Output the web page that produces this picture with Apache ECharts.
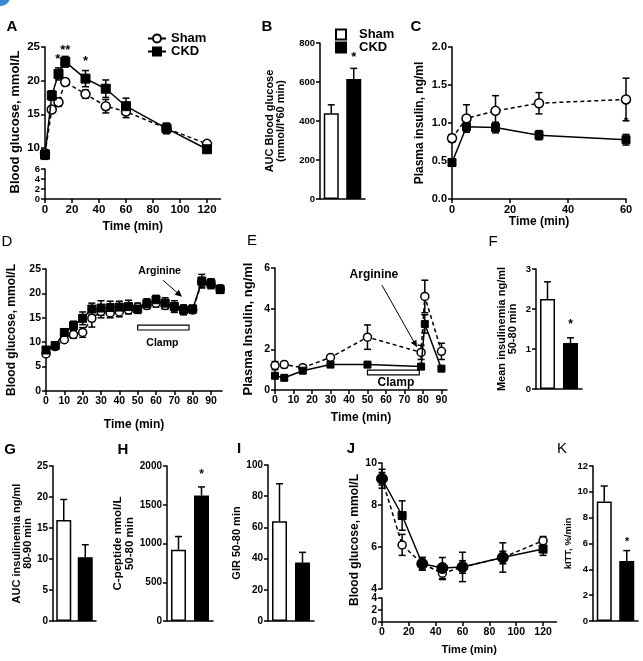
<!DOCTYPE html>
<html><head><meta charset="utf-8">
<script src="https://cdn.jsdelivr.net/npm/echarts@6/dist/echarts.min.js"></script>
<style>html,body{margin:0;padding:0;background:#fff}#c{width:643px;height:661px}</style>
</head><body><div id="c"></div><script>
// ---------- DATA ----------
// A: glucose tolerance
const aTime = [0,5,10,15,30,45,60,90,120];
const aSham = [9.2,15.7,16.8,19.8,18.0,16.2,15.4,12.9,10.6];
const aShamSem = [0.5,0.4,0.6,0.5,0.6,1.0,0.9,0.5,0.3];
const aCkd = [9.0,17.8,21.0,22.8,20.3,18.8,16.2,12.9,9.8];
const aCkdSem = [0.7,0.7,0.9,0.8,1.2,1.3,1.2,0.8,0.4];
const aXTicks = [0,20,40,60,80,100,120];
const aYTicks = [10,15,20,25];
const aYLowTicks = [0,2,4,6];
const aStars = [[9.5,23.1,'*'],[15,24.5,'**'],[30,22.9,'*']];
// B: AUC glucose
const groups = ['Sham','CKD'];
const bMean = [440,615];
const bSem = [43,55];
const bStars = [[1,728,'*']];
// C: plasma insulin
const cTime = [0,5,15,30,60];
const cSham = [0.80,1.06,1.16,1.26,1.31];
const cShamSem = [0.05,0.18,0.20,0.14,0.28];
const cCkd = [0.48,0.95,0.94,0.84,0.78];
const cCkdSem = [0.04,0.07,0.07,0.06,0.07];
const cStars = [[60,1.0,'*']];
// D: clamp glucose
const dTime = [0,5,10,15,20,25,30,35,40,45,50,55,60,65,70,75,80,85,90,95];
const dSham = [7.6,9.1,10.5,11.6,12.0,14.9,16.3,16.0,16.2,16.6,17.2,17.5,18.0,17.5,17.2,16.8,16.6,22.3,21.9,20.9];
const dShamSem = [0.5,0.4,0.5,0.8,1.0,1.8,1.3,1.0,1.0,0.8,0.8,0.6,0.8,0.7,0.8,0.8,0.7,1.0,0.9,0.8];
const dCkd = [8.4,9.3,12.0,13.4,14.9,16.8,17.0,17.1,17.2,17.3,16.8,17.9,18.7,18.0,17.3,16.6,16.8,22.5,22.0,20.8];
const dCkdSem = [0.6,0.5,0.6,0.9,1.3,1.2,1.5,1.3,1.2,1.3,0.9,1.0,0.9,1.1,1.2,1.0,0.8,1.4,1.0,0.8];
const dXTicks = [0,10,20,30,40,50,60,70,80,90];
const dTexts = [[62,24.6,'Arginine'],[63.5,9.8,'Clamp']];
const dArrow = [[63.8,22.7,74.2,19.3]];
const dClamp = [[50,12.5,78,13.5]];
// E: clamp insulin
const eTime = [0,5,15,30,50,79,81,90];
const eSham = [1.2,1.25,1.1,1.6,2.6,1.85,4.6,1.9];
const eShamSem = [0.2,0.15,0.1,0.1,0.6,0.35,0.8,0.4];
const eCkd = [0.7,0.6,0.95,1.25,1.25,1.15,3.25,1.05];
const eCkdSem = [0.1,0.05,0.1,0.1,0.05,0.1,0.45,0.05];
const eXTicks = [0,10,20,30,40,50,60,70,80,90];
const eTexts = [[53.5,5.66,'Arginine'],[65.4,0.35,'Clamp']];
const eArrow = [[57.8,5.16,76.8,2.1]];
const eClamp = [[50,0.74,78,0.98]];
// F..I, K: bar panels
const fMean = [2.25,1.15], fSem = [0.43,0.13], fStars = [[1,1.62,'*']];
const gMean = [16.3,10.3], gSem = [3.3,2.0];
const hMean = [920,1620], hSem = [170,110], hStars = [[1,1890,'*']];
const iMean = [64,37.5], iSem = [24,6.5];
const kMean = [9.25,4.65], kSem = [1.2,0.8], kStars = [[1,6.1,'*']];
// J: insulin tolerance
const jTime = [0,15,30,45,60,90,120];
const jSham = [9.25,6.1,5.2,4.75,5.05,5.5,6.3];
const jShamSem = [0.3,0.5,0.3,0.3,0.3,0.3,0.2];
const jCkd = [9.25,7.5,5.2,5.0,5.05,5.5,5.9];
const jCkdSem = [0.45,0.7,0.3,0.5,0.7,0.7,0.3];
const jXTicks = [0,20,40,60,80,100,120];
const jYLowTicks = [0,2,4];

// ---------- STYLE HELPERS ----------
const F = "'Liberation Sans', Arial, Helvetica, sans-serif";
const K = '#000';
const jCkdSymbol = ['circle','rect','circle','circle','circle','circle','rect'];

function axisStyle(fs){ return {
  axisLine:{show:true,onZero:false,lineStyle:{color:K,width:1.5}},
  axisTick:{show:true,inside:false,length:4,lineStyle:{color:K,width:1.5}},
  axisLabel:{color:K,fontFamily:F,fontWeight:'bold',fontSize:fs,margin:5,showMinLabel:true,showMaxLabel:true,hideOverlap:false,
             formatter:v=>String(v)},
  splitLine:{show:false}
};}
function valX(gi,min,max,opt,fs){
  const a = Object.assign({type:'value',gridIndex:gi,min:min,max:max},axisStyle(fs||11));
  return Object.assign(a,opt||{});
}
function nameStyle(fs){return {color:K,fontFamily:F,fontWeight:'bold',fontSize:fs};}
function catX(gi){
  const a = Object.assign({type:'category',gridIndex:gi,data:groups},axisStyle(10));
  a.axisTick = {show:false}; a.axisLabel = {show:false};
  return a;
}
function errSeries(xi,xs,means,errs,topOnly){
  return {type:'custom',xAxisIndex:xi,yAxisIndex:xi,z:2,silent:true,clip:false,
    data:xs.map((x,i)=>[x, topOnly?means[i]:means[i]-errs[i], means[i]+errs[i]]),
    renderItem:(p,api)=>{
      const lo=api.coord([api.value(0),api.value(1)]);
      const hi=api.coord([api.value(0),api.value(2)]);
      const w=3.5, st={stroke:K,lineWidth:1.5};
      const ch=[{type:'line',shape:{x1:lo[0],y1:lo[1],x2:hi[0],y2:hi[1]},style:st},
                {type:'line',shape:{x1:hi[0]-w,y1:hi[1],x2:hi[0]+w,y2:hi[1]},style:st}];
      if(!topOnly) ch.push({type:'line',shape:{x1:lo[0]-w,y1:lo[1],x2:lo[0]+w,y2:lo[1]},style:st});
      return {type:'group',children:ch};
    }};
}
function shamLine(xi,name,xs,ys,size){
  return {type:'line',name:name,xAxisIndex:xi,yAxisIndex:xi,z:3,
    data:xs.map((x,i)=>[x,ys[i]]),symbol:'circle',symbolSize:size||8,
    itemStyle:{color:'#fff',borderColor:K,borderWidth:1.5},
    lineStyle:{color:K,width:1.5,type:[4,3]}};
}
function ckdLine(xi,name,xs,ys,size){
  return {type:'line',name:name,xAxisIndex:xi,yAxisIndex:xi,z:4,
    data:xs.map((x,i)=>[x,ys[i]]),symbol:'rect',symbolSize:size||8,
    itemStyle:{color:K,borderColor:K,borderWidth:1},
    lineStyle:{color:K,width:1.5}};
}
function barSeries(xi,means){
  return {type:'bar',xAxisIndex:xi,yAxisIndex:xi,barWidth:15,z:1,
    data:means.map((v,i)=>({value:v,itemStyle:i===0?{color:'#fff',borderColor:K,borderWidth:1.5}:{color:K,borderColor:K,borderWidth:1.5}}))};
}
function textSeries(xi,yi,items,font){
  return {type:'custom',xAxisIndex:xi,yAxisIndex:yi,z:6,silent:true,clip:false,
    data:items.map(d=>[d[0],d[1]]),
    renderItem:(p,api)=>{
      const c=api.coord([api.value(0),api.value(1)]);
      return {type:'text',x:c[0],y:c[1],z2:10,style:{text:items[p.dataIndex][2],font:font,fill:K,align:'center',verticalAlign:'middle'}};
    }};
}
function arrowSeries(xi,items){
  return {type:'custom',xAxisIndex:xi,yAxisIndex:xi,z:6,silent:true,clip:false,
    data:items,
    renderItem:(p,api)=>{
      const a=api.coord([api.value(0),api.value(1)]);
      const b=api.coord([api.value(2),api.value(3)]);
      const ang=Math.atan2(b[1]-a[1],b[0]-a[0]);const L=7,W=3.2;
      const c=Math.cos(ang),s=Math.sin(ang);
      const p1=[b[0]-L*c+W*s,b[1]-L*s-W*c],p2=[b[0]-L*c-W*s,b[1]-L*s+W*c];
      return {type:'group',children:[
        {type:'line',shape:{x1:a[0],y1:a[1],x2:b[0]-L*c*0.6,y2:b[1]-L*s*0.6},style:{stroke:K,lineWidth:1}},
        {type:'polygon',shape:{points:[b,p1,p2]},style:{fill:K}}]};
    }};
}
function boxSeries(xi,items){
  return {type:'custom',xAxisIndex:xi,yAxisIndex:xi,z:1,silent:true,clip:false,
    data:items,
    renderItem:(p,api)=>{
      const a=api.coord([api.value(0),api.value(1)]);
      const b=api.coord([api.value(2),api.value(3)]);
      return {type:'rect',shape:{x:a[0],y:b[1],width:b[0]-a[0],height:a[1]-b[1]},style:{fill:'#fff',stroke:K,lineWidth:1.2}};
    }};
}

// ---------- LAYOUT ----------
const grids = [
  {left:45,top:47,width:175.5,height:111},   //0 A upper
  {left:45,top:169,width:175.5,height:30},   //1 A lower
  {left:320,top:43,width:45,height:156},     //2 B
  {left:452,top:47,width:174,height:152},    //3 C
  {left:46,top:269,width:176,height:122},    //4 D
  {left:275,top:268,width:172,height:122},   //5 E
  {left:536,top:269,width:46,height:120},    //6 F
  {left:53,top:466,width:43,height:155},     //7 G
  {left:167,top:466,width:46,height:155},    //8 H
  {left:268,top:465,width:46,height:156},    //9 I
  {left:382,top:463,width:174.5,height:126}, //10 J upper
  {left:382,top:598,width:174.5,height:24},  //11 J lower
  {left:593,top:466,width:45,height:155}     //12 K
].map(g=>Object.assign(g,{containLabel:false,outerBoundsMode:'none'}));

const xAxes = [
  valX(0,0,130,{show:false}),
  valX(1,0,130,{name:'Time (min)',nameLocation:'middle',nameGap:22,nameTextStyle:nameStyle(12)},11.5),
  catX(2),
  valX(3,0,60,{interval:20,name:'Time (min)',nameLocation:'middle',nameGap:17,nameTextStyle:nameStyle(12)},11),
  valX(4,0,96,{name:'Time (min)',nameLocation:'middle',nameGap:28,nameTextStyle:nameStyle(12)},10.5),
  valX(5,0,93,{name:'Time (min)',nameLocation:'middle',nameGap:22,nameTextStyle:nameStyle(12)},10.5),
  catX(6),catX(7),catX(8),catX(9),
  valX(10,0,130,{show:false}),
  valX(11,0,130,{name:'Time (min)',nameLocation:'middle',nameGap:22,nameTextStyle:nameStyle(11)},10.5),
  catX(12)
];
xAxes[1].axisTick.customValues = aXTicks; xAxes[1].axisLabel.customValues = aXTicks;
xAxes[4].axisTick.customValues = dXTicks; xAxes[4].axisLabel.customValues = dXTicks;
xAxes[5].axisTick.customValues = eXTicks; xAxes[5].axisLabel.customValues = eXTicks;
xAxes[11].axisTick.customValues = jXTicks; xAxes[11].axisLabel.customValues = jXTicks;

function valY(gi,min,max,interval,fs,opt){
  const a=Object.assign({type:'value',gridIndex:gi,min:min,max:max},axisStyle(fs));
  if(interval) a.interval=interval;
  return Object.assign(a,opt||{});
}
function yName(txt,gap,fs){return {name:txt,nameLocation:'middle',nameGap:gap,nameRotate:90,nameTextStyle:nameStyle(fs)};}
const yAxes = [
  valY(0,8.5,25,null,11.5),
  valY(1,0,6,2,9.5),
  valY(2,0,800,200,9.5,yName('AUC Blood glucose\n(mmol/l*60 min)',34,11)),
  valY(3,0,2,0.5,11,yName('Plasma insulin, ng/ml',26,12)),
  valY(4,0,25,5,10.5,yName('Blood glucose, mmol/L',28,12)),
  valY(5,0,6,2,10.5,yName('Plasma Insulin, ng/ml',20,13)),
  valY(6,0,3,1,9.5,yName('Mean insulinemia ng/ml\n50-80 min',18,11)),
  valY(7,0,25,5,10,yName('AUC insulinemia ng/ml\n80-90 min',20,11)),
  valY(8,0,2000,500,10,yName('C-peptide nmol/L\n50-80 min',28,11.5)),
  valY(9,0,100,20,10,yName('GIR 50-80 min',22,11)),
  valY(10,4,10,2,10.5),
  valY(11,0,4,2,10),
  valY(12,0,12,2,9.5,yName('kITT, %/min',16,9.5))
];
yAxes[0].axisTick.customValues = aYTicks; yAxes[0].axisLabel.customValues = aYTicks;
yAxes[1].axisTick.customValues = aYLowTicks; yAxes[1].axisLabel.customValues = aYLowTicks;
yAxes[11].axisTick.customValues = jYLowTicks; yAxes[11].axisLabel.customValues = jYLowTicks;
yAxes[3].axisLabel.formatter = v=>v.toFixed(1);

// ---------- SERIES ----------
const series = [];
// A
series.push(errSeries(0,aTime,aSham,aShamSem), errSeries(0,aTime,aCkd,aCkdSem));
series.push(shamLine(0,'A:Sham',aTime,aSham,9), ckdLine(0,'A:CKD',aTime,aCkd,9));
series.push(textSeries(0,0,aStars,'bold 13px '+F));
// B
series.push({type:'bar',name:'B:Sham',xAxisIndex:2,yAxisIndex:2,barWidth:15,barGap:'-100%',data:[bMean[0],'-'],itemStyle:{color:'#fff',borderColor:K,borderWidth:1.5}});
series.push({type:'bar',name:'B:CKD',xAxisIndex:2,yAxisIndex:2,barWidth:15,barGap:'-100%',data:['-',bMean[1]],itemStyle:{color:K,borderColor:K,borderWidth:1.5}});
series.push(errSeries(2,[0,1],bMean,bSem,true));
series.push(textSeries(2,2,bStars,'bold 13px '+F));
// C
series.push(errSeries(3,cTime,cSham,cShamSem), errSeries(3,cTime,cCkd,cCkdSem));
series.push(shamLine(3,'C:Sham',cTime,cSham,9), ckdLine(3,'C:CKD',cTime,cCkd,8));
series.push(textSeries(3,3,cStars,'bold 12px '+F));
// D
series.push(boxSeries(4,dClamp));
series.push(errSeries(4,dTime,dSham,dShamSem), errSeries(4,dTime,dCkd,dCkdSem));
series.push(shamLine(4,'D:Sham',dTime,dSham,8), ckdLine(4,'D:CKD',dTime,dCkd,8));
series.push(textSeries(4,4,dTexts,'bold 10.5px '+F), arrowSeries(4,dArrow));
// E
series.push(boxSeries(5,eClamp));
series.push(errSeries(5,eTime,eSham,eShamSem), errSeries(5,eTime,eCkd,eCkdSem));
series.push(shamLine(5,'E:Sham',eTime,eSham,8), ckdLine(5,'E:CKD',eTime,eCkd,7));
series.push(textSeries(5,5,eTexts,'bold 12px '+F), arrowSeries(5,eArrow));
// F G H I K bars
[[6,fMean,fSem,fStars],[7,gMean,gSem,null],[8,hMean,hSem,hStars],[9,iMean,iSem,null],[12,kMean,kSem,kStars]].forEach(p=>{
  series.push(barSeries(p[0],p[1]));
  series.push(errSeries(p[0],[0,1],p[1],p[2],true));
  if(p[3]) series.push(textSeries(p[0],p[0],p[3],(p[0]===12?'italic bold 11px ':'bold 12px ')+F));
});
// J
series.push(errSeries(10,jTime,jSham,jShamSem), errSeries(10,jTime,jCkd,jCkdSem));
series.push(shamLine(10,'J:Sham',jTime,jSham,8));
const jc = ckdLine(10,'J:CKD',jTime,jCkd,8);
jc.data = jTime.map((t,i)=>({value:[t,jCkd[i]],symbol:jCkdSymbol[i],symbolSize:jCkdSymbol[i]==='rect'?8:11}));
series.push(jc);

// ---------- GRAPHIC (panel letters, broken-axis titles) ----------
const letter=(t,x,y,bold)=>({type:'text',x:x,y:y,style:{text:t,font:(bold?'bold ':'')+'15px '+F,fill:K,align:'center',verticalAlign:'middle'}});
const graphic = [
  {type:'circle',shape:{cx:1,cy:-3,r:9},style:{fill:'#3a86d4'}},
  letter('A',12,27,true),letter('B',267,27,true),letter('C',416,27,true),
  letter('D',7,242,false),letter('E',252,241,false),letter('F',493,242,false),
  letter('G',10,450,true),letter('H',123,450,true),letter('I',239,449,true),
  letter('J',351,449,true),letter('K',562,449,false),
  {type:'text',x:15,y:122,rotation:Math.PI/2,style:{text:'Blood glucose, mmol/L',font:'bold 13px '+F,fill:K,align:'center',verticalAlign:'middle'}},
  {type:'text',x:355,y:540,rotation:Math.PI/2,style:{text:'Blood glucose, mmol/L',font:'bold 12px '+F,fill:K,align:'center',verticalAlign:'middle'}}
];

const fmt = n=>n.split(':')[1];
const option = {
  animation:false,
  backgroundColor:'#fff',
  grid:grids, xAxis:xAxes, yAxis:yAxes, series:series, graphic:graphic,
  legend:[
    {left:142,top:27,orient:'vertical',itemGap:0,itemWidth:18,itemHeight:10,selectedMode:false,
     data:['A:Sham','A:CKD'],formatter:fmt,textStyle:{color:K,fontFamily:F,fontWeight:'bold',fontSize:13}},
    {left:330,top:23,orient:'vertical',itemGap:0,itemWidth:10,itemHeight:10,selectedMode:false,icon:'rect',
     data:['B:Sham','B:CKD'],formatter:fmt,textStyle:{color:K,fontFamily:F,fontWeight:'bold',fontSize:13,padding:[0,0,0,8]}}
  ]
};
const chart = echarts.init(document.getElementById('c'),null,{renderer:'canvas'});
chart.setOption(option);
</script></body></html>
